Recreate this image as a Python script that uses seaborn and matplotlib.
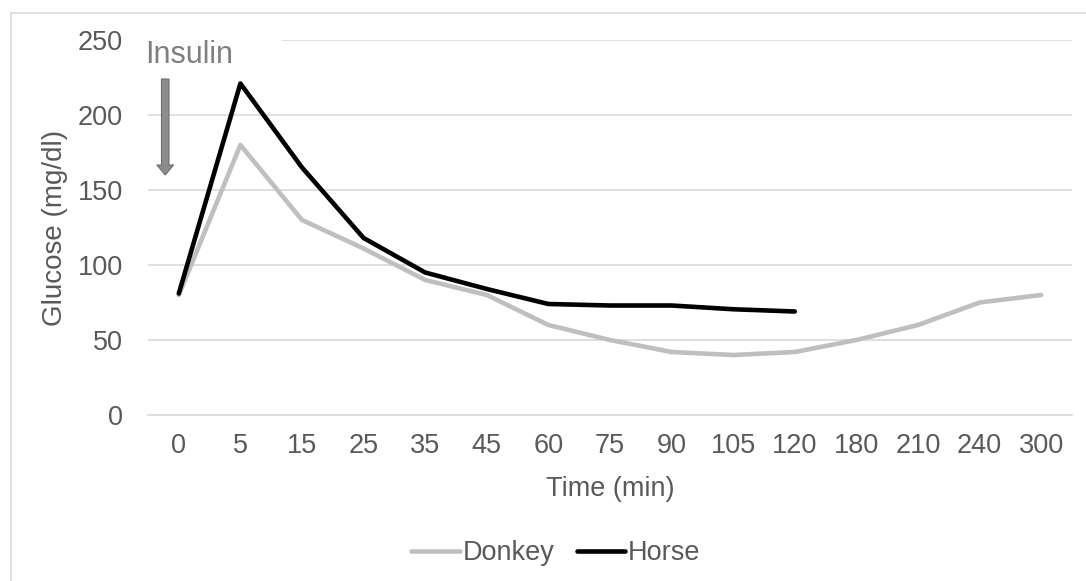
import numpy as np
import pandas as pd
import matplotlib
matplotlib.use("Agg")
import matplotlib.pyplot as plt
from matplotlib.lines import Line2D
from matplotlib.patches import Rectangle
import seaborn as sns

# Data
times = ["0", "5", "15", "25", "35", "45", "60", "75", "90", "105", "120", "180", "210", "240", "300"]
donkey = [80, 180, 130, 111, 90, 80, 60, 50, 42, 40, 42, 50, 60, 75, 80]
horse = [81, 221, 165, 118, 95, 84, 74, 73, 73, 70.5, 69, np.nan, np.nan, np.nan, np.nan]

df = pd.DataFrame({"Time": times, "Donkey": donkey, "Horse": horse})
df = df.melt(id_vars="Time", var_name="Species", value_name="Glucose")

palette = {"Donkey": "#bfbfbf", "Horse": "#000000"}
text_col = "#595959"
grid_col = "#d9d9d9"
lw = 3.3

sns.set_style("white")
plt.rcParams["font.family"] = ["Liberation Sans", "DejaVu Sans"]

fig = plt.figure(figsize=(10.86, 5.81), dpi=100)
ax = fig.add_axes([148 / 1086, 1 - 415 / 581, (1072 - 148) / 1086, (415 - 40) / 581])

sns.lineplot(data=df, x="Time", y="Glucose", hue="Species", palette=palette,
             linewidth=lw, sort=False, legend=False, ax=ax, zorder=3)

# Axes styling (Excel look)
ax.set_xlim(-0.5, len(times) - 0.5)
ax.set_ylim(0, 250)
ax.set_yticks(np.arange(0, 251, 50))
ax.set_axisbelow(True)
ax.yaxis.grid(True, color=grid_col, linewidth=1.2)
ax.xaxis.grid(False)
for s in ["left", "right", "top"]:
    ax.spines[s].set_visible(False)
ax.spines["bottom"].set_color(grid_col)
ax.spines["bottom"].set_linewidth(1.2)

ax.set_xticks(range(len(times)))
ax.set_xticklabels(times)
ax.set_xticks(np.arange(-0.5, len(times), 1), minor=True)
ax.tick_params(axis="x", which="major", length=0, pad=13, labelsize=19.5, labelcolor=text_col)
ax.tick_params(axis="x", which="minor", length=5.4, width=1.2, color=grid_col, direction="out")
ax.tick_params(axis="y", length=0, pad=18, labelsize=19.5, labelcolor=text_col)

ax.set_xlabel("Time (min)", fontsize=19.5, color=text_col, labelpad=12.5)
ax.set_ylabel("Glucose (mg/dl)", fontsize=20, color=text_col, labelpad=7)

# white box behind the Insulin label hides the top gridline
ax.add_patch(Rectangle((-0.65, 238), 2.32, 24, facecolor="white", edgecolor="none",
                       zorder=1, clip_on=False))
fig.text(145 / 1086, 1 - 63 / 581, "Insulin", fontsize=22, color="#7f7f7f",
         ha="left", va="baseline")
ax.annotate("", xy=(-0.22, 160), xytext=(-0.22, 224),
            arrowprops=dict(arrowstyle="simple,head_width=0.6,tail_width=0.27,head_length=0.36",
                            fc="#8c8c8c", ec="#6e6e6e", lw=0.8, shrinkA=0, shrinkB=0,
                            mutation_scale=20))

# legend at the bottom
handles = [Line2D([], [], color=palette[k], linewidth=lw) for k in ["Donkey", "Horse"]]
fig.legend(handles, ["Donkey", "Horse"], loc="center", ncol=2, frameon=False,
           bbox_to_anchor=(556 / 1086, 1 - 553 / 581), fontsize=19.5,
           handlelength=1.78, handletextpad=0.1, columnspacing=0.85,
           labelcolor=text_col)

# chart area border
fig.add_artist(Rectangle((11 / 1086, -0.1), 1.2, 1 - 13 / 581 + 0.1, transform=fig.transFigure,
                         fill=False, edgecolor=grid_col, linewidth=1.2))

fig.savefig("out.png", dpi=100)
